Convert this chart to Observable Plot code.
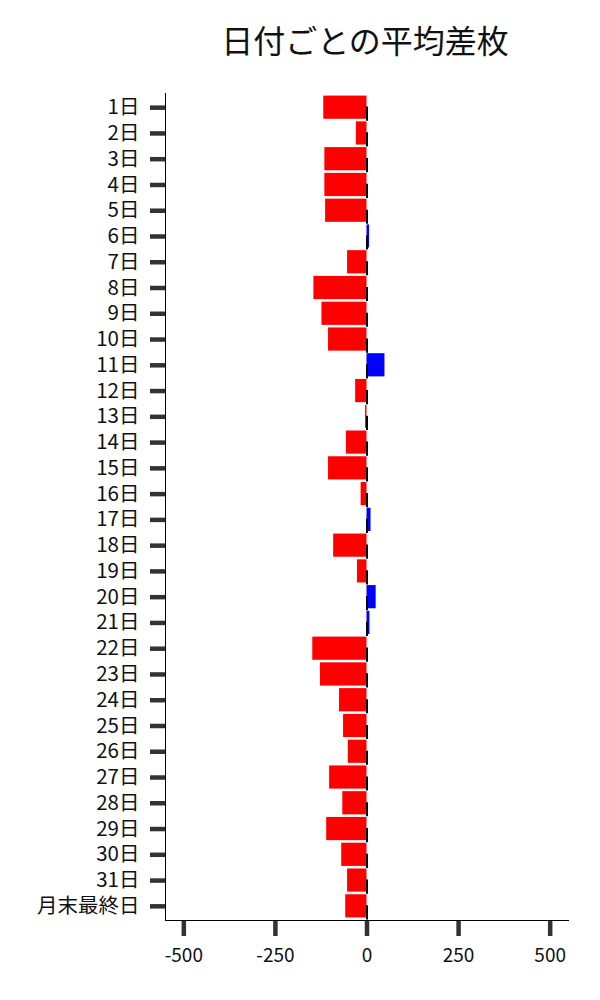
<!DOCTYPE html>
<html>
<head>
<meta charset="utf-8">
<script src="https://cdn.jsdelivr.net/npm/d3@7"></script>
<script src="https://cdn.jsdelivr.net/npm/@observablehq/plot@0.6"></script>
<style>
  body { margin: 0; background: #fff; font-family: "Noto Sans CJK JP", "Noto Sans", sans-serif; }
</style>
</head>
<body>
<div id="chart"></div>
<script>
const title = "日付ごとの平均差枚";
const days = ["1日","2日","3日","4日","5日","6日","7日","8日","9日","10日",
  "11日","12日","13日","14日","15日","16日","17日","18日","19日","20日",
  "21日","22日","23日","24日","25日","26日","27日","28日","29日","30日",
  "31日","月末最終日"];
const avgDiff = [-118,-29,-115,-115,-113,7,-53,-145,-123,-105,
  49,-31,-4,-56,-105,-16,11,-91,-26,25,
  8,-148,-127,-75,-64,-51,-102,-66,-110,-69,
  -53,-58];
const xTicks = [-500,-250,0,250,500];

const data = days.map((d, i) => ({day: d, value: avgDiff[i]}));

const chart = Plot.plot({
  width: 600,
  height: 1000,
  marginTop: 93,
  marginBottom: 80,
  marginLeft: 165,
  marginRight: 32,
  style: {fontFamily: '"Noto Sans CJK JP", "Noto Sans", sans-serif', fontSize: "20px", color: "#111", background: "#fff"},
  x: {domain: [-550, 550]},
  y: {domain: days, padding: 0.1, round: false},
  marks: [
    Plot.barX(data, {x: "value", y: "day", fill: d => d.value >= 0 ? "#0000ff" : "#ff0000"}),
    Plot.tickX(data, {x: 0, y: "day", stroke: "black", strokeWidth: 2, insetTop: 9, dy: 2}),
    Plot.axisY({tickSize: 15, tickPadding: 11, strokeWidth: 4.5, stroke: "#333", fill: "#111", fontSize: 20.5, label: null}),
    Plot.axisX({ticks: xTicks, tickFormat: d => String(d), tickSize: 16, tickPadding: 12, strokeWidth: 4.5, stroke: "#333", fill: "#111", fontSize: 19, label: null}),
    Plot.frame({anchor: "left", stroke: "black", strokeWidth: 1}),
    Plot.frame({anchor: "bottom", stroke: "black", strokeWidth: 1}),
    Plot.text([title], {frameAnchor: "top", dy: -63, dx: -2, fontSize: 32, fill: "#111"})
  ]
});
document.getElementById("chart").appendChild(chart);
</script>
</body>
</html>
